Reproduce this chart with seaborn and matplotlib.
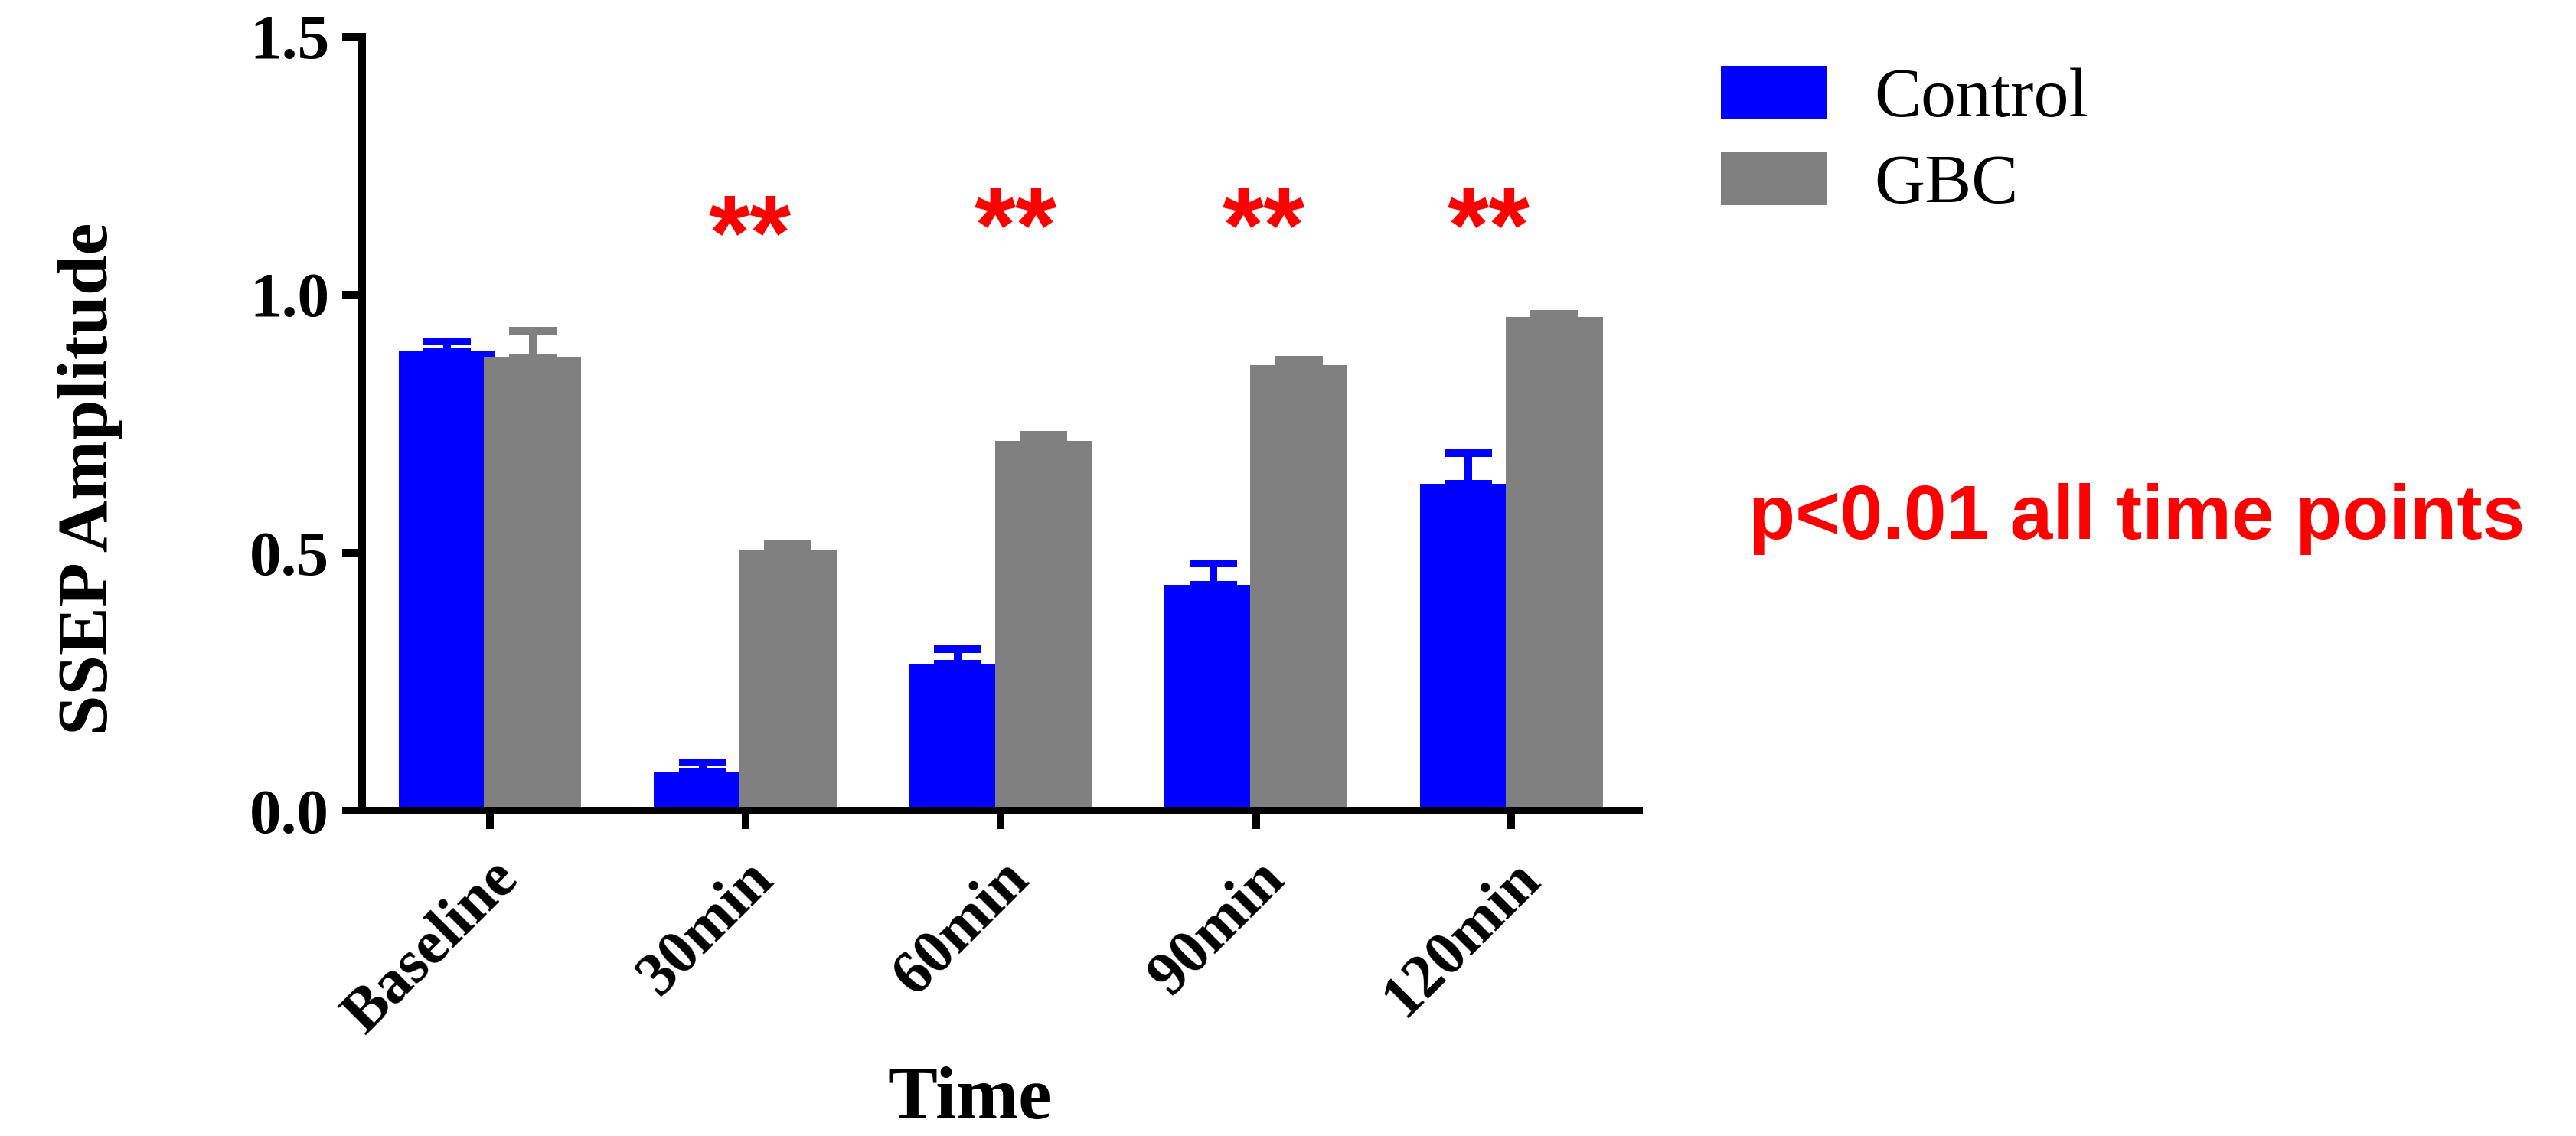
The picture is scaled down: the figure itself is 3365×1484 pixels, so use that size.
"""
SSEP amplitude over time, Control vs GBC (GraphPad-style grouped bar chart).
Writes out.png.
"""

import matplotlib.pyplot as plt
import matplotlib.transforms as mtrans
import pandas as pd
import seaborn as sns
from matplotlib.patches import Patch

# ---------------------------------------------------------------------------
# Data
# ---------------------------------------------------------------------------

TIMES = ["Baseline", "30min", "60min", "90min", "120min"]
GROUPS = ["Control", "GBC"]

CONTROL_MEAN = [0.890, 0.076, 0.285, 0.437, 0.633]
CONTROL_ERR = [0.020, 0.017, 0.028, 0.042, 0.060]
GBC_MEAN = [0.879, 0.505, 0.716, 0.864, 0.957]
GBC_ERR = [0.051, 0.012, 0.013, 0.010, 0.006]

SIG_TIMES = ["30min", "60min", "90min", "120min"]
SIG_LABEL = "**"
NOTE = "p<0.01 all time points"

PALETTE = {"Control": "#0000FF", "GBC": "#808080"}
RED = "#FF0000"

sns.set_style("ticks")
plt.rcParams["font.family"] = ["Liberation Serif", "DejaVu Serif"]
plt.rcParams.update({
    "text.color": "black", "axes.labelcolor": "black", "axes.edgecolor": "black",
    "xtick.color": "black", "ytick.color": "black",
})

LW = 3.6  # ~10 px at 200 dpi

# ---------------------------------------------------------------------------
# Build
# ---------------------------------------------------------------------------

df = pd.DataFrame({
    "time": TIMES * 2,
    "group": ["Control"] * len(TIMES) + ["GBC"] * len(TIMES),
    "amp": CONTROL_MEAN + GBC_MEAN,
})
errs = CONTROL_ERR + GBC_ERR
colors = [PALETTE["Control"]] * len(TIMES) + [PALETTE["GBC"]] * len(TIMES)

fig = plt.figure(figsize=(16.825, 7.42), dpi=200)
ax = fig.add_axes([0.1406, 0.2864, 0.4957, 0.6813])

sns.barplot(
    data=df, x="time", y="amp", hue="group",
    order=TIMES, hue_order=GROUPS, palette=PALETTE,
    width=0.67, errorbar=None, saturation=1, legend=False,
    linewidth=0, ax=ax,
)

# GraphPad draws the bars slightly overlapping: widen each around its centre
for p in ax.patches:
    c = p.get_x() + p.get_width() / 2
    p.set_width(0.38)
    p.set_x(c - 0.19)

# upper-only SEM bars
for p, e, col in zip(ax.patches, errs, colors):
    c = p.get_x() + p.get_width() / 2
    ax.errorbar(
        c, p.get_height(), yerr=[[0], [e]], fmt="none",
        ecolor=col, elinewidth=LW, capsize=11, capthick=LW, zorder=3,
    )

# significance stars (nudged like in the original)
star_dx = {"30min": 0.02, "60min": 0.06, "90min": 0.03, "120min": -0.09}
star_y = {"30min": 1.20, "60min": 1.215, "90min": 1.215, "120min": 1.215}
for t in SIG_TIMES:
    ax.text(
        TIMES.index(t) + star_dx[t], star_y[t], SIG_LABEL, ha="center", va="top",
        color=RED, fontsize=50, fontweight="bold", family=["Liberation Sans"],
    )

# axes styling
ax.set_xlim(-0.5, len(TIMES) - 0.5)
ax.set_ylim(0, 1.5)
ax.set_yticks([0.0, 0.5, 1.0, 1.5])
ax.set_yticklabels([f"{v:.1f}" for v in [0.0, 0.5, 1.0, 1.5]],
                   fontsize=30, fontweight="bold")
ax.set_xticks(range(len(TIMES)))
ax.set_xticklabels(TIMES, rotation=45, ha="right", rotation_mode="anchor",
                   fontsize=29, fontweight="bold")
shift = mtrans.ScaledTranslation(-6 / 72, 0, fig.dpi_scale_trans)
for lbl in ax.get_xticklabels():
    lbl.set_transform(lbl.get_transform() + shift)
sns.despine(ax=ax)
for s in ("left", "bottom"):
    ax.spines[s].set_linewidth(LW)
ax.tick_params(axis="y", width=LW, length=9.4, pad=6)
ax.tick_params(axis="x", width=LW, length=8.6, pad=10)

ax.set_ylabel("SSEP Amplitude", fontsize=34, fontweight="bold")
ax.yaxis.set_label_coords(-0.188, 0.429)
ax.set_xlabel("Time", fontsize=35, fontweight="bold")
ax.xaxis.set_label_coords(0.476, -0.33)

handles = [Patch(facecolor=PALETTE[g], edgecolor="none", label=g) for g in GROUPS]
fig.legend(
    handles=handles, loc="upper left", bbox_to_anchor=(2248 / 3365, 1 - 86 / 1484),
    frameon=False, fontsize=33, handlelength=1.5, handleheight=0.78,
    handletextpad=0.69, labelspacing=0.3, borderpad=0, borderaxespad=0,
)

fig.text(2284 / 3365, 1 - 704 / 1484, NOTE, color=RED, fontsize=36,
         fontweight="bold", family=["Liberation Sans"], ha="left", va="baseline")

fig.savefig("out.png", dpi=200)
